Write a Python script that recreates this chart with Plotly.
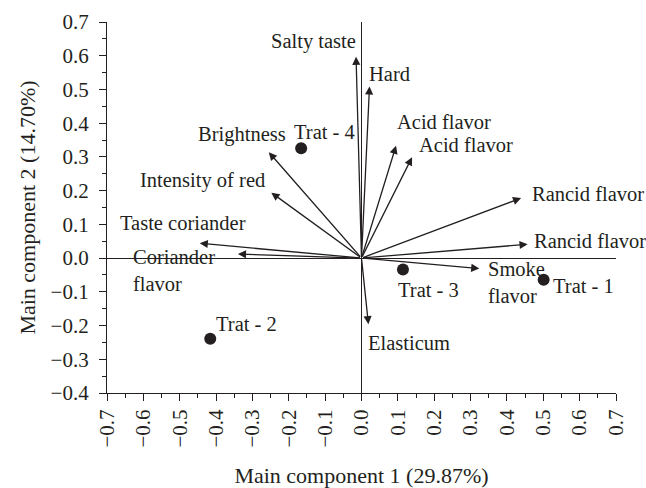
import plotly.graph_objects as go

# Loading vectors (variables)
var_names = ["Salty taste", "Hard", "Acid flavor", "Acid flavor", "Rancid flavor", "Rancid flavor",
             "Smoke flavor", "Elasticum", "Coriander flavor", "Taste coriander", "Intensity of red", "Brightness"]
var_x = [-0.015, 0.022, 0.095, 0.139, 0.439, 0.457, 0.324, 0.019, -0.340, -0.445, -0.248, -0.255]
var_y = [0.597, 0.509, 0.333, 0.299, 0.178, 0.041, -0.031, -0.196, 0.012, 0.044, 0.194, 0.314]
var_text = ["Salty taste", "Hard", "Acid flavor", "Acid flavor", "Rancid flavor", "Rancid flavor",
            "Smoke<br>flavor", "Elasticum", "Coriander<br>flavor", "Taste coriander", "Intensity of red", "Brightness"]
var_lx = [-0.011, 0.014, 0.091, 0.154, 0.464, 0.470, 0.343, 0.011, -0.635, -0.670, -0.261, -0.203]
var_ly = [0.641, 0.547, 0.403, 0.335, 0.191, 0.050, -0.071, -0.253, -0.037, 0.103, 0.229, 0.365]
var_anchor = ["right", "left", "left", "left", "left", "left", "left", "left", "left", "left", "right", "right"]

# Treatment scores
trt_names = ["Trat - 1", "Trat - 2", "Trat - 3", "Trat - 4"]
trt_x = [0.501, -0.416, 0.114, -0.166]
trt_y = [-0.064, -0.239, -0.034, 0.326]
trt_lx = [0.522, -0.407, 0.096, -0.190]
trt_ly = [-0.082, -0.194, -0.094, 0.374]

x_ticks = [round(-0.7 + 0.1 * i, 1) for i in range(15)]
y_ticks = [round(-0.4 + 0.1 * i, 1) for i in range(12)]

INK = "#231f20"
FONT = "Liberation Serif"
LBL = 20.5

fig = go.Figure()
fig.add_trace(go.Scatter(x=trt_x, y=trt_y, mode="markers",
                         marker=dict(size=12, color=INK), showlegend=False, hoverinfo="skip"))

ann = []
for vx, vy in zip(var_x, var_y):
    ann.append(dict(x=vx, y=vy, ax=0, ay=0, xref="x", yref="y", axref="x", ayref="y",
                    showarrow=True, arrowhead=2, arrowsize=1.25, arrowwidth=1.3, arrowcolor=INK, text=""))
for t, lx, ly, an in zip(var_text, var_lx, var_ly, var_anchor):
    ann.append(dict(x=lx, y=ly, xref="x", yref="y", text=t, showarrow=False,
                    xanchor=an, yanchor="middle", align="left",
                    font=dict(family=FONT, size=LBL, color=INK)))
for t, lx, ly in zip(trt_names, trt_lx, trt_ly):
    ann.append(dict(x=lx, y=ly, xref="x", yref="y", text=t, showarrow=False,
                    xanchor="left", yanchor="middle",
                    font=dict(family=FONT, size=LBL, color=INK)))

minor = dict(ticks="outside", ticklen=4, tickcolor=INK, tickwidth=1.2, dtick=0.05, tick0=0.05)
axis_common = dict(showgrid=False, zeroline=True, zerolinecolor=INK, zerolinewidth=1.2,
                   showline=True, linecolor=INK, linewidth=1.2, ticks="outside", ticklen=7,
                   tickcolor=INK, tickwidth=1.2, tickformat=".1f", automargin=False,
                   tickfont=dict(family=FONT, size=21, color=INK), minor=minor)

fig.update_layout(
    width=646, height=488,
    margin=dict(l=107, r=30, t=22, b=95),
    paper_bgcolor="white", plot_bgcolor="white",
    annotations=ann,
    xaxis=dict(range=[-0.7, 0.7], tickvals=x_ticks, tickangle=-90,
               title=dict(text="Main component 1 (29.87%)", font=dict(family=FONT, size=22, color=INK), standoff=25),
               **axis_common),
    yaxis=dict(range=[-0.4, 0.7], tickvals=y_ticks, ticklabelstandoff=6,
               title=dict(text="Main component 2 (14.70%)", font=dict(family=FONT, size=22, color=INK), standoff=8),
               **axis_common),
)

fig.write_html("out.html", config={"displayModeBar": False},
               post_script="document.body.style.margin='0';document.body.style.overflow='hidden';")
